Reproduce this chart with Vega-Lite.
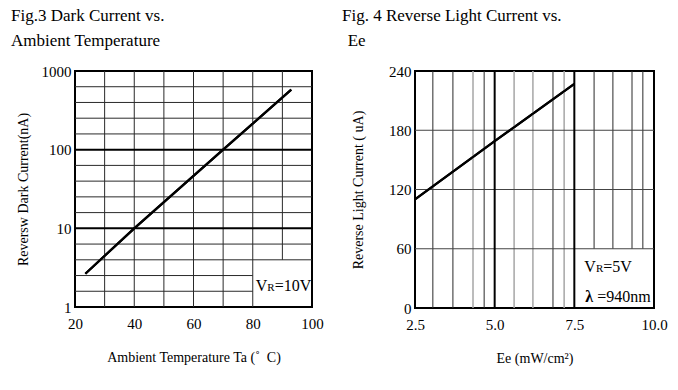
{
  "$schema": "https://vega.github.io/schema/vega-lite/v6.json",
  "background": "white",
  "padding": {"left": 10, "top": 6, "right": 5, "bottom": 5},
  "config": {
    "view": {"stroke": "black", "strokeWidth": 2},
    "font": "Liberation Serif",
    "axis": {
      "domain": false, "ticks": false, "grid": false,
      "labelFont": "Liberation Serif", "labelFontSize": 15, "labelColor": "black",
      "titleFont": "Liberation Serif", "titleFontSize": 14, "titleFontWeight": "normal", "titleColor": "black",
      "labelFlush": false, "labelOverlap": false
    },
    "axisX": {"labelPadding": 9, "titlePadding": 19},
    "axisY": {"labelPadding": 4},
    "title": {
      "font": "Liberation Serif", "fontSize": 17, "fontWeight": "normal", "color": "black",
      "anchor": "start", "frame": "group", "lineHeight": 25, "offset": 14
    }
  },
  "datasets": {
    "leftVertical": [
      {"x": 30, "y": 1, "y2": 1000}, {"x": 40, "y": 1, "y2": 1000}, {"x": 50, "y": 1, "y2": 1000},
      {"x": 60, "y": 1, "y2": 1000}, {"x": 70, "y": 1, "y2": 1000}, {"x": 80, "y": 1, "y2": 1000},
      {"x": 90, "y": 3.981, "y2": 1000}
    ],
    "leftMinor": [
      {"y": 1.585, "x": 20, "x2": 80}, {"y": 2.512, "x": 20, "x2": 80},
      {"y": 3.981, "x": 20, "x2": 100}, {"y": 6.31, "x": 20, "x2": 100},
      {"y": 15.85, "x": 20, "x2": 100}, {"y": 25.12, "x": 20, "x2": 100},
      {"y": 39.81, "x": 20, "x2": 100}, {"y": 63.1, "x": 20, "x2": 100},
      {"y": 158.5, "x": 20, "x2": 100}, {"y": 251.2, "x": 20, "x2": 100},
      {"y": 398.1, "x": 20, "x2": 100}, {"y": 631, "x": 20, "x2": 100}
    ],
    "leftDecade": [{"y": 10}, {"y": 100}],
    "darkCurrent": [
      {"x": 23.5, "y": 2.65}, {"x": 40, "y": 10}, {"x": 70, "y": 100}, {"x": 93, "y": 580}
    ],
    "rightBlack": [
      {"x": 3.06, "y": 0, "y2": 240}, {"x": 3.69, "y": 0, "y2": 240}, {"x": 4.67, "y": 0, "y2": 240},
      {"x": 6.83, "y": 0, "y2": 240},
      {"x": 8.12, "y": 60, "y2": 240}, {"x": 8.71, "y": 60, "y2": 240},
      {"x": 9.31, "y": 60, "y2": 240}, {"x": 9.65, "y": 60, "y2": 240}
    ],
    "rightGray": [
      {"x": 4.32, "y": 0, "y2": 240}, {"x": 5.61, "y": 0, "y2": 240},
      {"x": 6.2, "y": 0, "y2": 240}, {"x": 7.18, "y": 0, "y2": 240}
    ],
    "rightBold": [{"x": 5}, {"x": 7.5}],
    "rightHorizontal": [{"y": 60}, {"y": 120}, {"y": 180}],
    "lightCurrent": [{"x": 2.5, "y": 110}, {"x": 5, "y": 169}, {"x": 7.5, "y": 227}]
  },
  "bounds": "flush",
  "spacing": 103,
  "hconcat": [
    {
      "width": 237, "height": 236,
      "title": {"text": ["Fig.3 Dark Current vs.", "Ambient Temperature"], "dx": -64},
      "layer": [
        {
          "data": {"name": "darkCurrent"},
          "mark": {"type": "line", "color": "black", "strokeWidth": 2.2},
          "encoding": {
            "x": {"field": "x", "type": "quantitative", "scale": {"domain": [20, 100], "nice": false},
                  "axis": {"values": [20, 40, 60, 80, 100], "title": "Ambient Temperature Ta (\u02da\u00a0\u00a0C)"}},
            "y": {"field": "y", "type": "quantitative", "scale": {"type": "log", "domain": [1, 1000], "nice": false},
                  "axis": {"values": [1, 10, 100, 1000], "format": "d", "title": "Reversw Dark Current(nA)", "titlePadding": 11}}
          }
        },
        {
          "data": {"name": "leftVertical"},
          "mark": {"type": "rule", "color": "#2a2a2a", "strokeWidth": 1},
          "encoding": {
            "x": {"field": "x", "type": "quantitative"},
            "y": {"field": "y", "type": "quantitative"},
            "y2": {"field": "y2"}
          }
        },
        {
          "data": {"name": "leftMinor"},
          "mark": {"type": "rule", "color": "#2a2a2a", "strokeWidth": 1},
          "encoding": {
            "x": {"field": "x", "type": "quantitative"},
            "x2": {"field": "x2"},
            "y": {"field": "y", "type": "quantitative"}
          }
        },
        {
          "data": {"name": "leftDecade"},
          "mark": {"type": "rule", "color": "black", "strokeWidth": 2},
          "encoding": {
            "y": {"field": "y", "type": "quantitative"}
          }
        },
        {
          "data": {"name": "darkCurrent"},
          "mark": {"type": "line", "color": "black", "strokeWidth": 2.2},
          "encoding": {
            "x": {"field": "x", "type": "quantitative"},
            "y": {"field": "y", "type": "quantitative"}
          }
        },
        {
          "data": {"values": [{}]},
          "mark": {"type": "text", "text": "V", "fontSize": 16, "align": "left", "baseline": "alphabetic", "dx": 3, "color": "black"},
          "encoding": {"x": {"datum": 80, "type": "quantitative"}, "y": {"datum": 1.6, "type": "quantitative"}}
        },
        {
          "data": {"values": [{}]},
          "mark": {"type": "text", "text": "R", "fontSize": 11, "align": "left", "baseline": "alphabetic", "dx": 14.6, "color": "black"},
          "encoding": {"x": {"datum": 80, "type": "quantitative"}, "y": {"datum": 1.6, "type": "quantitative"}}
        },
        {
          "data": {"values": [{}]},
          "mark": {"type": "text", "text": "=10V", "fontSize": 16, "align": "left", "baseline": "alphabetic", "dx": 21.9, "color": "black"},
          "encoding": {"x": {"datum": 80, "type": "quantitative"}, "y": {"datum": 1.6, "type": "quantitative"}}
        }
      ]
    },
    {
      "width": 239, "height": 237,
      "title": {"text": ["Fig. 4 Reverse Light Current vs.", "\u200b\u2004Ee"], "dx": -73},
      "layer": [
        {
          "data": {"name": "lightCurrent"},
          "mark": {"type": "line", "color": "black", "strokeWidth": 2.2},
          "encoding": {
            "x": {"field": "x", "type": "quantitative", "scale": {"domain": [2.5, 10], "nice": false},
                  "axis": {"values": [2.5, 5, 7.5, 10], "format": ".1f", "title": "Ee (mW/cm\u00b2)"}},
            "y": {"field": "y", "type": "quantitative", "scale": {"domain": [0, 240], "nice": false},
                  "axis": {"values": [0, 60, 120, 180, 240], "title": "Reverse Light Current ( uA)", "titlePadding": 23}}
          }
        },
        {
          "data": {"name": "rightGray"},
          "mark": {"type": "rule", "color": "#a6a6a6", "strokeWidth": 1.5},
          "encoding": {
            "x": {"field": "x", "type": "quantitative"},
            "y": {"field": "y", "type": "quantitative"},
            "y2": {"field": "y2"}
          }
        },
        {
          "data": {"name": "rightBlack"},
          "mark": {"type": "rule", "color": "#2a2a2a", "strokeWidth": 1},
          "encoding": {
            "x": {"field": "x", "type": "quantitative"},
            "y": {"field": "y", "type": "quantitative"},
            "y2": {"field": "y2"}
          }
        },
        {
          "data": {"name": "rightHorizontal"},
          "mark": {"type": "rule", "color": "#444444", "strokeWidth": 1},
          "encoding": {
            "y": {"field": "y", "type": "quantitative"}
          }
        },
        {
          "data": {"name": "rightBold"},
          "mark": {"type": "rule", "color": "black", "strokeWidth": 2},
          "encoding": {
            "x": {"field": "x", "type": "quantitative"}
          }
        },
        {
          "data": {"name": "lightCurrent"},
          "mark": {"type": "line", "color": "black", "strokeWidth": 2.2},
          "encoding": {
            "x": {"field": "x", "type": "quantitative"},
            "y": {"field": "y", "type": "quantitative"}
          }
        },
        {
          "data": {"values": [{}]},
          "mark": {"type": "text", "text": "V", "fontSize": 16, "align": "left", "baseline": "alphabetic", "dx": 10, "color": "black"},
          "encoding": {"x": {"datum": 7.5, "type": "quantitative"}, "y": {"datum": 36.5, "type": "quantitative"}}
        },
        {
          "data": {"values": [{}]},
          "mark": {"type": "text", "text": "R", "fontSize": 11, "align": "left", "baseline": "alphabetic", "dx": 21.6, "color": "black"},
          "encoding": {"x": {"datum": 7.5, "type": "quantitative"}, "y": {"datum": 36.5, "type": "quantitative"}}
        },
        {
          "data": {"values": [{}]},
          "mark": {"type": "text", "text": "=5V", "fontSize": 16, "align": "left", "baseline": "alphabetic", "dx": 28.9, "color": "black"},
          "encoding": {"x": {"datum": 7.5, "type": "quantitative"}, "y": {"datum": 36.5, "type": "quantitative"}}
        },
        {
          "data": {"values": [{}]},
          "mark": {"type": "text", "text": "λ", "fontSize": 16, "fontWeight": "bold", "align": "left", "baseline": "alphabetic", "dx": 11, "color": "black"},
          "encoding": {"x": {"datum": 7.5, "type": "quantitative"}, "y": {"datum": 6, "type": "quantitative"}}
        },
        {
          "data": {"values": [{}]},
          "mark": {"type": "text", "text": "=940nm", "fontSize": 16, "align": "left", "baseline": "alphabetic", "dx": 23, "color": "black"},
          "encoding": {"x": {"datum": 7.5, "type": "quantitative"}, "y": {"datum": 6, "type": "quantitative"}}
        }
      ]
    }
  ]
}
